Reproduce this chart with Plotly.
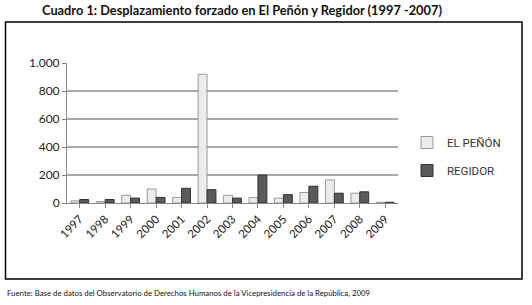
import plotly.graph_objects as go

years = ["1997", "1998", "1999", "2000", "2001", "2002", "2003", "2004",
         "2005", "2006", "2007", "2008", "2009"]
el_penon = [15, 10, 55, 100, 40, 920, 55, 40, 35, 75, 165, 70, 5]
regidor = [25, 25, 35, 40, 105, 95, 35, 200, 60, 120, 70, 80, 5]
y_ticks = [0, 200, 400, 600, 800, 1000]
y_tick_labels = ["0", "200", "400", "600", "800", "1.000"]

W, H = 532, 305
L, R, T, B = 67, 134, 63, 102
pw, ph = W - L - R, H - T - B

def px_to_paper_x(x):
    return (x - L) / pw

def px_to_paper_y(y):
    return (H - B - y) / ph

fig = go.Figure()
fig.add_trace(go.Bar(x=years, y=el_penon, name="EL PEÑÓN", legendgroup="a",
                     marker=dict(color="#ececec", line=dict(color="#9a9a9a", width=1))))
fig.add_trace(go.Bar(x=years, y=regidor, name="REGIDOR", legendgroup="b",
                     marker=dict(color="#5a5a5a", line=dict(color="#333333", width=1))))

fig.update_layout(
    width=W, height=H,
    margin=dict(l=L, r=R, t=T, b=B),
    paper_bgcolor="white", plot_bgcolor="white",
    barmode="group", bargap=0.3, bargroupgap=0.0,
    font=dict(family="Lato, Open Sans, sans-serif", color="#222"),
    showlegend=True,
    legend=dict(x=px_to_paper_x(407), y=px_to_paper_y(128), xanchor="left", yanchor="top",
                font=dict(size=11.5, color="#333", family="Roboto, Lato, sans-serif"),
                tracegroupgap=9, itemwidth=30,
                bgcolor="rgba(0,0,0,0)"),
    xaxis=dict(tickangle=-45, tickfont=dict(size=11.5, color="#222"),
               showline=True, linecolor="#888", linewidth=1,
               ticks="outside", ticklen=4, tickcolor="#888", showgrid=False),
    yaxis=dict(range=[0, 1000], tickvals=y_ticks, ticktext=y_tick_labels,
               tickfont=dict(size=12, color="#222"),
               showgrid=True, gridcolor="#a8a8a8", gridwidth=2,
               showline=True, linecolor="#888", linewidth=1,
               ticks="outside", ticklen=4, tickcolor="#888", zeroline=False),
    shapes=[dict(type="rect", xref="paper", yref="paper",
                 x0=px_to_paper_x(5.5), x1=px_to_paper_x(522),
                 y0=px_to_paper_y(279), y1=px_to_paper_y(22),
                 line=dict(color="black", width=1.5), fillcolor="rgba(0,0,0,0)", layer="below")],
    annotations=[
        dict(text="<b>Cuadro 1: Desplazamiento forzado en El Peñón y Regidor (1997 -2007)</b>",
             xref="paper", yref="paper", x=px_to_paper_x(40), y=px_to_paper_y(10),
             xanchor="left", yanchor="middle", showarrow=False,
             font=dict(size=12.8, color="#111", family="Lato, Open Sans, sans-serif")),
        dict(text="Fuente: Base de datos del Observatorio de Derechos Humanos de la Vicepresidencia de la República, 2009",
             xref="paper", yref="paper", x=px_to_paper_x(5), y=px_to_paper_y(293),
             xanchor="left", yanchor="middle", showarrow=False,
             font=dict(size=7.8, color="#111", family="Lato, Open Sans, sans-serif")),
    ],
)

fig.write_html("out.html", config={"displayModeBar": False},
               post_script="document.body.style.margin='0';document.body.style.overflow='hidden';")
